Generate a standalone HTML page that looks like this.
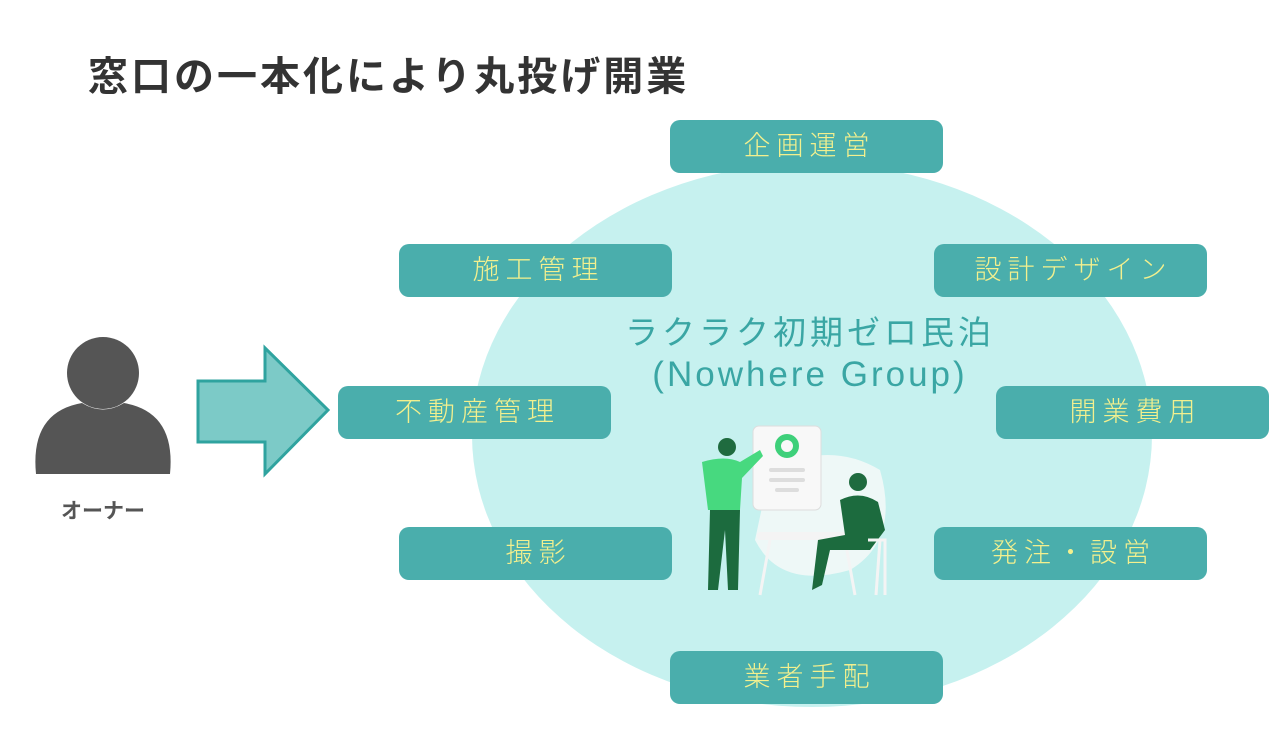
<!DOCTYPE html>
<html><head><meta charset="utf-8"><style>
body{margin:0;width:1280px;height:746px;background:#fff;position:relative;overflow:hidden;font-family:"Liberation Sans","Noto Sans CJK JP",sans-serif}
.t{position:absolute;left:88px;top:44px;font-size:40px;font-weight:bold;color:#333;letter-spacing:3px}
.b{position:absolute;width:273px;height:53px;background:#4aaeac;border-radius:10px;color:#f3f08e;font-size:27px;font-weight:300;text-align:center;line-height:53px;letter-spacing:6px;text-indent:6px}
.c{position:absolute;left:510px;width:600px;text-align:center;color:#3aa6a4;letter-spacing:3px}
</style></head><body>
<svg width="1280" height="746" style="position:absolute;left:0;top:0">
<ellipse cx="812" cy="435" rx="340" ry="272" fill="#c6f1ef"/>
<circle cx="103" cy="373" r="36" fill="#555"/>
<path d="M36 474 Q30 412 82 403 Q103 416 124 403 Q176 412 170 474 Z" fill="#555"/>
<path d="M198 381 H265 V348 L328 410 L265 474 V442 H198 Z" fill="#7ccac7" stroke="#2fa39f" stroke-width="3"/>
<path d="M770 470 Q830 440 880 470 Q900 540 850 570 Q780 590 755 540 Z" fill="#eef8f7"/>
<rect x="753" y="426" width="68" height="84" rx="6" fill="#f8f8f8" stroke="#ddd"/>
<circle cx="787" cy="446" r="9" fill="none" stroke="#3ed07a" stroke-width="6"/>
<rect x="769" y="468" width="36" height="4" rx="2" fill="#ddd"/><rect x="769" y="478" width="36" height="4" rx="2" fill="#ddd"/><rect x="775" y="488" width="24" height="4" rx="2" fill="#ddd"/>
<rect x="757" y="532" width="100" height="8" rx="3" fill="#f4f4f4"/>
<path d="M770 540 L760 595 M845 540 L855 595" stroke="#f4f4f4" stroke-width="3"/>
<circle cx="727" cy="447" r="9" fill="#1f6b3f"/>
<path d="M702 462 Q725 455 740 462 L760 450 L763 456 L742 478 L740 510 L708 510 Z" fill="#47d97f"/>
<path d="M710 510 H740 L738 590 H728 L725 530 L718 590 H708 Z" fill="#1c6b3e"/>
<circle cx="858" cy="482" r="9" fill="#1f6b3f"/>
<path d="M840 500 Q860 490 878 502 L885 530 L870 550 L830 550 L822 585 L812 590 L818 540 L845 535 Z" fill="#1c6b3e"/>
<path d="M868 540 L885 540 L885 595 M880 540 L876 595" stroke="#f4f4f4" stroke-width="3" fill="none"/>
</svg>
<div class="t">窓口の一本化により丸投げ開業</div>
<div style="position:absolute;left:40px;top:495px;width:126px;text-align:center;font-size:21px;font-weight:bold;color:#555">オーナー</div>
<div class="c" style="top:306px;font-size:33px;letter-spacing:4px">ラクラク初期ゼロ民泊</div>
<div class="c" style="top:355px;font-size:35px;letter-spacing:3px">(Nowhere Group)</div>
<div class="b" style="left:670px;top:120px">企画運営</div>
<div class="b" style="left:399px;top:244px">施工管理</div>
<div class="b" style="left:934px;top:244px">設計デザイン</div>
<div class="b" style="left:338px;top:386px">不動産管理</div>
<div class="b" style="left:996px;top:386px">開業費用</div>
<div class="b" style="left:399px;top:527px">撮影</div>
<div class="b" style="left:934px;top:527px">発注・設営</div>
<div class="b" style="left:670px;top:651px">業者手配</div>
</body></html>
